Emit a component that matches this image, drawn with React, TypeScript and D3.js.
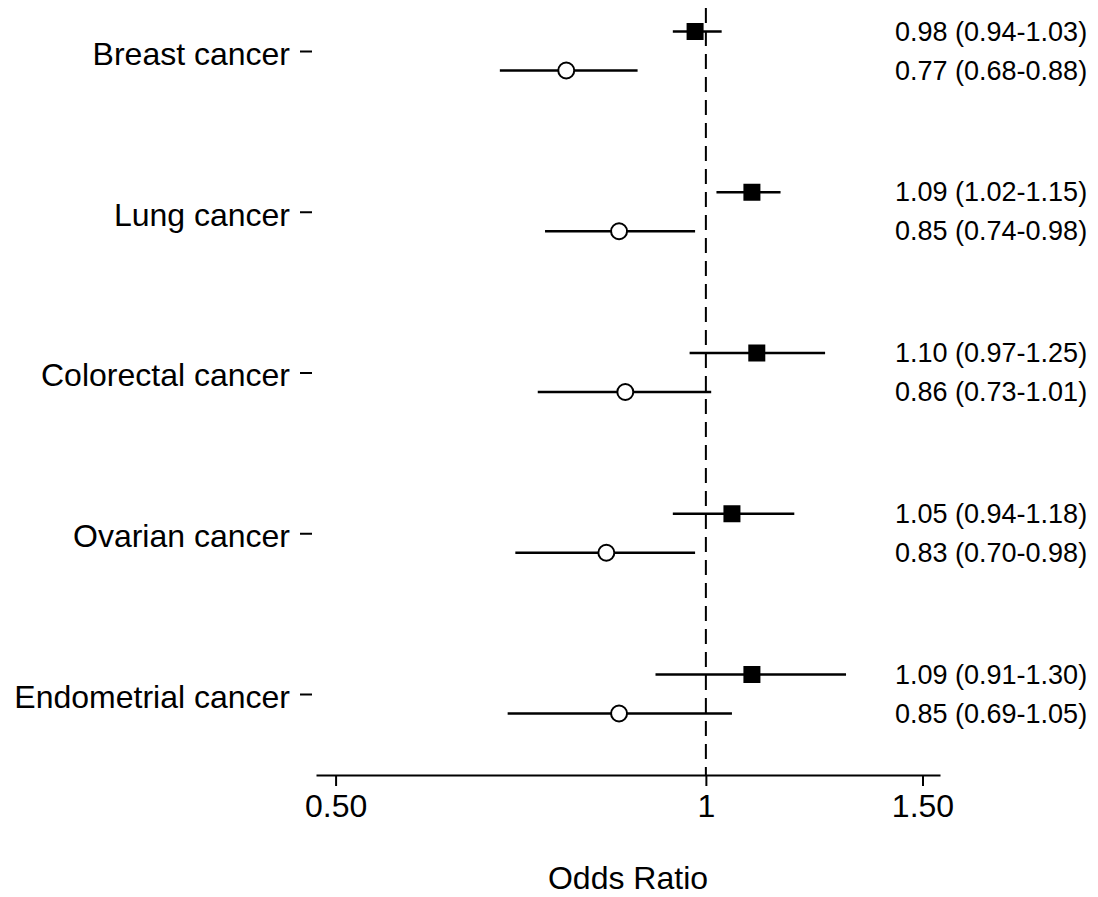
import React, { useEffect, useRef } from 'react';
import * as d3 from 'd3';

const categories = ['Breast cancer', 'Lung cancer', 'Colorectal cancer', 'Ovarian cancer', 'Endometrial cancer'];

// filled squares
const sqOR = [0.98, 1.09, 1.10, 1.05, 1.09];
const sqLo = [0.94, 1.02, 0.97, 0.94, 0.91];
const sqHi = [1.03, 1.15, 1.25, 1.18, 1.30];

// open circles
const ciOR = [0.77, 0.85, 0.86, 0.83, 0.85];
const ciLo = [0.68, 0.74, 0.73, 0.70, 0.69];
const ciHi = [0.88, 0.98, 1.01, 0.98, 1.05];

const xTicks = [0.5, 1, 1.5];
const xTickLabels = ['0.50', '1', '1.50'];

const fmt = (v: number) => v.toFixed(2);

const App = () => {
  const ref = useRef<SVGSVGElement>(null);

  useEffect(() => {
    const svg = d3.select(ref.current);
    svg.selectAll('*').remove();
    const width = 1098;
    const height = 897;
    const font = '"Liberation Sans", Arial, sans-serif';
    const axisY = 775;

    svg.attr('width', width).attr('height', height);

    const x = d3.scaleLog().domain([0.482, 1.55]).range([316, 940]);
    const y = d3.scaleLinear().domain([0, categories.length - 1]).range([51, 694]);
    const off = 19.5;

    // reference line at 1
    svg.append('line')
      .attr('x1', x(1)).attr('x2', x(1))
      .attr('y1', 8).attr('y2', axisY)
      .attr('stroke', '#000').attr('stroke-width', 2)
      .attr('stroke-dasharray', '15,8');

    // x axis
    const xAxis = d3.axisBottom(x)
      .tickValues(xTicks)
      .tickFormat((d, i) => xTickLabels[i])
      .tickSize(11)
      .tickPadding(8)
      .tickSizeOuter(0);
    const gx = svg.append('g').attr('transform', `translate(0,${axisY})`).call(xAxis);
    gx.select('.domain').attr('stroke-width', 2);
    gx.selectAll('.tick line').attr('stroke-width', 2);
    gx.selectAll('.tick text').attr('font-size', 32).attr('font-family', font).attr('fill', '#000');

    svg.append('text')
      .attr('x', (x(0.482) + x(1.55)) / 2)
      .attr('y', 889)
      .attr('text-anchor', 'middle')
      .attr('font-size', 32)
      .attr('font-family', font)
      .text('Odds Ratio');

    // y axis (ticks + labels only)
    const yAxis = d3.axisLeft(y)
      .tickValues(d3.range(categories.length))
      .tickFormat((d, i) => categories[i])
      .tickSize(12)
      .tickPadding(10);
    const gy = svg.append('g').attr('transform', 'translate(312,0)').call(yAxis);
    gy.select('.domain').remove();
    gy.selectAll('.tick line').attr('stroke-width', 2);
    gy.selectAll('.tick text').attr('font-size', 32).attr('font-family', font).attr('fill', '#000').attr('dy', '0.42em');

    const rows = categories.map((c, i) => i);

    // CI lines
    const g = svg.append('g');
    g.selectAll('line.sq').data(rows).join('line')
      .attr('x1', i => x(sqLo[i])).attr('x2', i => x(sqHi[i]))
      .attr('y1', i => y(i) - off).attr('y2', i => y(i) - off)
      .attr('stroke', '#000').attr('stroke-width', 2.5);
    g.selectAll('line.ci').data(rows).join('line')
      .attr('x1', i => x(ciLo[i])).attr('x2', i => x(ciHi[i]))
      .attr('y1', i => y(i) + off).attr('y2', i => y(i) + off)
      .attr('stroke', '#000').attr('stroke-width', 2.5);

    const s = 17;
    g.selectAll('rect').data(rows).join('rect')
      .attr('x', i => x(sqOR[i]) - s / 2)
      .attr('y', i => y(i) - off - s / 2)
      .attr('width', s).attr('height', s)
      .attr('fill', '#000');
    g.selectAll('circle').data(rows).join('circle')
      .attr('cx', i => x(ciOR[i]))
      .attr('cy', i => y(i) + off)
      .attr('r', 8)
      .attr('fill', '#fff').attr('stroke', '#000').attr('stroke-width', 2);

    // annotations
    const ann = svg.append('g').attr('font-family', font).attr('font-size', 27);
    ann.selectAll('text.a').data(rows).join('text')
      .attr('x', 895).attr('y', i => y(i) - off + 9)
      .text(i => `${fmt(sqOR[i])} (${fmt(sqLo[i])}-${fmt(sqHi[i])})`);
    ann.selectAll('text.b').data(rows).join('text')
      .attr('class', 'b')
      .attr('x', 895).attr('y', i => y(i) + off + 9)
      .text(i => `${fmt(ciOR[i])} (${fmt(ciLo[i])}-${fmt(ciHi[i])})`);
  }, []);

  return (
    <div style={{ position: 'absolute', left: 0, top: 0 }}>
      <svg ref={ref}></svg>
    </div>
  );
};

export default App;
